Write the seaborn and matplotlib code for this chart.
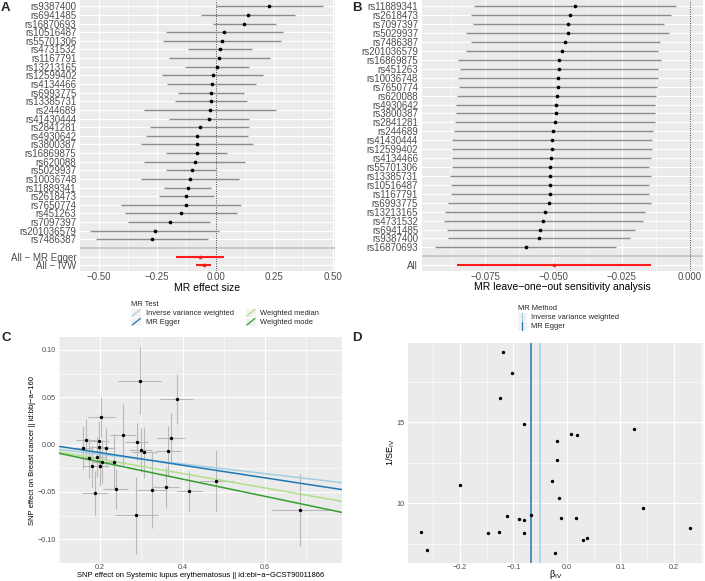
import numpy as np
import pandas as pd
import matplotlib
matplotlib.use("Agg")
import matplotlib.pyplot as plt
import seaborn as sns
from matplotlib.legend_handler import HandlerBase
from matplotlib.lines import Line2D
from matplotlib.patches import Rectangle

# ---------------- Panel A: single SNP forest plot ----------------
snps_a = ["rs9387400", "rs6941485", "rs16870693", "rs10516487", "rs55701306", "rs4731532",
          "rs1167791", "rs13213165", "rs12599402", "rs4134466", "rs6993775", "rs13385731",
          "rs244689", "rs41430444", "rs2841281", "rs4930642", "rs3800387", "rs16869875",
          "rs620088", "rs5029937", "rs10036748", "rs11889341", "rs2618473", "rs7650774",
          "rs451263", "rs7097397", "rs201036579", "rs7486387"]
b_a = [0.226, 0.140, 0.123, 0.036, 0.029, 0.017, 0.014, 0.006, -0.013, -0.017, -0.020, -0.020,
       -0.023, -0.029, -0.069, -0.079, -0.079, -0.079, -0.090, -0.103, -0.111, -0.119, -0.126,
       -0.126, -0.149, -0.197, -0.261, -0.271]
lo_a = [0.000, -0.061, -0.010, -0.211, -0.224, -0.119, -0.199, -0.130, -0.229, -0.206, -0.160, -0.174,
        -0.306, -0.199, -0.279, -0.296, -0.319, -0.211, -0.307, -0.211, -0.321, -0.219, -0.241,
        -0.404, -0.387, -0.374, -0.539, -0.510]
hi_a = [0.457, 0.340, 0.257, 0.286, 0.281, 0.154, 0.231, 0.144, 0.201, 0.173, 0.121, 0.133,
        0.259, 0.144, 0.141, 0.137, 0.160, 0.050, 0.126, 0.004, 0.099, -0.019, -0.009,
        0.110, 0.093, -0.023, 0.016, -0.034]
sum_a_labels = ["All \u2212 MR Egger", "All \u2212 IVW"]
sum_a_b = [-0.067, -0.051]
sum_a_lo = [-0.171, -0.086]
sum_a_hi = [0.037, -0.019]
a_xticks = [-0.50, -0.25, 0.00, 0.25, 0.50]
a_xticklabels = ["\u22120.50", "\u22120.25", "0.00", "0.25", "0.50"]

# ---------------- Panel B: leave-one-out ----------------
snps_b = ["rs11889341", "rs2618473", "rs7097397", "rs5029937", "rs7486387", "rs201036579",
          "rs16869875", "rs451263", "rs10036748", "rs7650774", "rs620088", "rs4930642",
          "rs3800387", "rs2841281", "rs244689", "rs41430444", "rs12599402", "rs4134466",
          "rs55701306", "rs13385731", "rs10516487", "rs1167791", "rs6993775", "rs13213165",
          "rs4731532", "rs6941485", "rs9387400", "rs16870693"]
b_b = [-0.0421, -0.0438, -0.0446, -0.0448, -0.0456, -0.0468, -0.0479, -0.0479, -0.0483, -0.0483,
       -0.0488, -0.0491, -0.0491, -0.0493, -0.0500, -0.0505, -0.0506, -0.0509, -0.0511, -0.0511,
       -0.0512, -0.0513, -0.0515, -0.0532, -0.0538, -0.0548, -0.0551, -0.0602]
lo_b = [-0.0789, -0.0802, -0.0796, -0.0821, -0.0802, -0.0820, -0.0849, -0.0840, -0.0848, -0.0845,
        -0.0852, -0.0856, -0.0856, -0.0859, -0.0863, -0.0872, -0.0872, -0.0872, -0.0871, -0.0878,
        -0.0873, -0.0874, -0.0884, -0.0896, -0.0902, -0.0891, -0.0884, -0.0933]
hi_b = [-0.0051, -0.0071, -0.0095, -0.0076, -0.0110, -0.0118, -0.0107, -0.0118, -0.0118, -0.0120,
        -0.0124, -0.0127, -0.0128, -0.0128, -0.0137, -0.0139, -0.0140, -0.0143, -0.0149, -0.0143,
        -0.0150, -0.0150, -0.0144, -0.0165, -0.0171, -0.0201, -0.0220, -0.0272]
sum_b_label = ["All"]
sum_b_b = [-0.0498]
sum_b_lo = [-0.0851]
sum_b_hi = [-0.0143]
b_xticks = [-0.075, -0.050, -0.025, 0.000]
b_xticklabels = ["\u22120.075", "\u22120.050", "\u22120.025", "0.000"]

# ---------------- Panel C: scatter plot ----------------
bx_c = [0.1596, 0.1661, 0.1727, 0.1799, 0.1887, 0.1935, 0.1976, 0.1984, 0.2008, 0.2040,
        0.2032, 0.2137, 0.2339, 0.2379, 0.2548, 0.2878, 0.2887, 0.2984, 0.3071, 0.3265,
        0.3588, 0.3652, 0.3717, 0.3855, 0.4160, 0.4813, 0.6853, 0.2967]
by_c = [-0.0032, 0.0053, -0.0141, -0.0225, -0.0511, -0.0130, 0.0035, -0.0025, -0.0222, -0.0180,
        0.0289, -0.0032, -0.0180, -0.0469, 0.0099, -0.0747, 0.0025, -0.0056, -0.0081, -0.0476,
        -0.0451, -0.0070, 0.0071, 0.0479, -0.0490, -0.0381, -0.0694, 0.0677]
sex_c = [0.020, 0.025, 0.022, 0.020, 0.031, 0.022, 0.024, 0.022, 0.020, 0.022,
         0.033, 0.024, 0.026, 0.030, 0.030, 0.052, 0.028, 0.028, 0.030, 0.036,
         0.032, 0.030, 0.034, 0.040, 0.030, 0.040, 0.069, 0.052]
sey_c = [0.0230, 0.0215, 0.0212, 0.0219, 0.0230, 0.0209, 0.0218, 0.0218, 0.0218, 0.0226,
         0.0209, 0.0207, 0.0287, 0.0214, 0.0325, 0.0405, 0.0202, 0.0236, 0.0270, 0.0401,
         0.0217, 0.0264, 0.0262, 0.0264, 0.0215, 0.0323, 0.0380, 0.0351]
methods = ["Inverse variance weighted", "MR Egger", "Weighted median", "Weighted mode"]
method_est = [-0.0511, -0.0667, -0.0763, -0.0911]
method_int = [0.0, 0.0049, 0.0, 0.0]
method_colors = ["#A6CEE3", "#1F78B4", "#B2DF8A", "#33A02C"]
c_xticks = [0.2, 0.4, 0.6]
c_xticklabels = ["0.2", "0.4", "0.6"]
c_yticks = [-0.10, -0.05, 0.00, 0.05, 0.10]
c_yticklabels = ["\u22120.10", "\u22120.05", "0.00", "0.05", "0.10"]

# ---------------- Panel D: funnel plot ----------------
beta_d = [-0.1196, -0.1022, -0.1259, -0.0804, 0.1252, 0.0081, 0.0193, -0.0187, -0.0193, -0.0274,
          -0.1994, -0.0150, 0.1420, -0.0679, -0.1121, -0.0903, -0.0798, -0.0118, 0.0174, 0.2299,
          -0.2729, -0.1483, -0.1265, -0.0798, 0.0374, 0.0305, -0.2623, -0.0218]
invse_d = [19.32, 18.02, 16.52, 14.91, 14.60, 14.26, 14.20, 13.83, 12.65, 11.36,
           11.13, 10.31, 9.71, 9.28, 9.22, 9.01, 8.99, 9.12, 9.07, 8.46,
           8.21, 8.15, 8.21, 8.15, 7.84, 7.74, 7.10, 6.93]
d_methods = ["Inverse variance weighted", "MR Egger"]
d_est = [-0.0511, -0.0667]
d_colors = ["#A6CEE3", "#1F78B4"]
d_xticks = [-0.2, -0.1, 0.0, 0.1, 0.2]
d_xticklabels = ["\u22120.2", "\u22120.1", "0.0", "0.1", "0.2"]
d_yticks = [10, 15]
d_yticklabels = ["10", "15"]

# ---------------- Styling ----------------
sns.set_theme(style="darkgrid")
plt.rcParams["font.family"] = ["Liberation Sans", "DejaVu Sans"]
plt.rcParams["mathtext.fontset"] = "custom"
plt.rcParams["mathtext.rm"] = "Liberation Sans"
plt.rcParams["mathtext.it"] = "Liberation Sans"
plt.rcParams["mathtext.default"] = "regular"

W, H = 705, 581
fig = plt.figure(figsize=(W / 100, H / 100), dpi=100)
fig.patch.set_facecolor("white")


def px_axes(l, t, r, b):
    return fig.add_axes([l / W, 1 - b / H, (r - l) / W, (b - t) / H])


def style(ax, fs, xpad, ypad):
    ax.set_facecolor("#EBEBEB")
    for s in ax.spines.values():
        s.set_visible(False)
    ax.grid(False)
    ax.tick_params(axis="both", which="major", length=1.6, width=0.5, color="#333333",
                   labelcolor="#4D4D4D", labelsize=fs)
    ax.tick_params(axis="x", pad=xpad)
    ax.tick_params(axis="y", pad=ypad)
    ax.tick_params(axis="both", which="minor", length=0)


def grid_lines(ax, xs_major, xs_minor, ys_major, ys_minor):
    for x in xs_minor:
        ax.axvline(x, color="white", lw=0.4, zorder=0)
    for x in xs_major:
        ax.axvline(x, color="white", lw=0.8, zorder=0)
    for y in ys_minor:
        ax.axhline(y, color="white", lw=0.4, zorder=0)
    for y in ys_major:
        ax.axhline(y, color="white", lw=0.8, zorder=0)


def place_xlabel(ax, y_px, ax_bottom_px, ax_height_px):
    ax.xaxis.label.set_va("center")
    ax.xaxis.set_label_coords(0.5, -(y_px - ax_bottom_px) / ax_height_px)


def place_ylabel(ax, x_px, ax_left_px, ax_width_px):
    ax.yaxis.label.set_va("center")
    ax.yaxis.set_label_coords(-(ax_left_px - x_px) / ax_width_px, 0.5)


# ----- A -----
axA = px_axes(80, 0, 335, 270.5)
style(axA, 7.0, -0.6, 1.0)
rows_a = np.arange(len(snps_a))
srow_a = np.array([len(snps_a) + 1, len(snps_a) + 2])
grid_lines(axA, a_xticks, [-0.375, -0.125, 0.125, 0.375], list(rows_a) + list(srow_a), [])
axA.axhline(len(snps_a), color="#C4C4C4", lw=1.2, zorder=1)
axA.hlines(rows_a, lo_a, hi_a, color="#8C8C8C", lw=1.0, zorder=2)
axA.hlines(srow_a, sum_a_lo, sum_a_hi, color="#FF1A1A", lw=1.5, zorder=2)
axA.axvline(0, color="#555555", lw=0.7, ls=(0, (1.2, 1.2)), zorder=1.5)
dfA = pd.DataFrame({"b": b_a, "row": rows_a})
sns.scatterplot(data=dfA, x="b", y="row", color="black", s=7, linewidth=0, ax=axA, zorder=3)
dfAs = pd.DataFrame({"b": sum_a_b, "row": srow_a})
sns.scatterplot(data=dfAs, x="b", y="row", color="#FF1A1A", s=7, linewidth=0, ax=axA, zorder=3)
axA.set_xlim(-0.58, 0.51)
axA.set_ylim(30.61, -0.73)
axA.set_yticks(list(rows_a) + list(srow_a))
axA.set_yticklabels(snps_a + sum_a_labels)
axA.set_xticks(a_xticks)
axA.set_xticklabels(a_xticklabels)
axA.set_xlabel("MR effect size", fontsize=7.5, color="black")
axA.set_ylabel("")
place_xlabel(axA, 287.5, 270.5, 270.5)

# ----- B -----
axB = px_axes(421.7, 0, 703, 270.7)
style(axB, 7.0, -0.6, 1.0)
rows_b = np.arange(len(snps_b))
srow_b = np.array([len(snps_b) + 1])
grid_lines(axB, b_xticks, [-0.0875, -0.0625, -0.0375, -0.0125], list(rows_b) + list(srow_b), [])
axB.axhline(len(snps_b), color="#C4C4C4", lw=1.2, zorder=1)
axB.hlines(rows_b, lo_b, hi_b, color="#8C8C8C", lw=1.0, zorder=2)
axB.hlines(srow_b, sum_b_lo, sum_b_hi, color="#FF1A1A", lw=1.5, zorder=2)
axB.axvline(0, color="#555555", lw=0.7, ls=(0, (1.2, 1.2)), zorder=1.5)
dfB = pd.DataFrame({"b": b_b, "row": rows_b})
sns.scatterplot(data=dfB, x="b", y="row", color="black", s=7, linewidth=0, ax=axB, zorder=3)
dfBs = pd.DataFrame({"b": sum_b_b, "row": srow_b})
sns.scatterplot(data=dfBs, x="b", y="row", color="#FF1A1A", s=7, linewidth=0, ax=axB, zorder=3)
axB.set_xlim(-0.0982, 0.00476)
axB.set_ylim(29.61, -0.71)
axB.set_yticks(list(rows_b) + list(srow_b))
axB.set_yticklabels(snps_b + sum_b_label)
axB.set_xticks(b_xticks)
axB.set_xticklabels(b_xticklabels)
axB.set_xlabel("MR leave\u2212one\u2212out sensitivity analysis", fontsize=7.5, color="black")
axB.set_ylabel("")
place_xlabel(axB, 287.5, 270.7, 270.7)

# ----- C -----
axC = px_axes(59.3, 337.3, 341.7, 563.3)
style(axC, 5.2, -0.8, 0.8)
grid_lines(axC, c_xticks, [0.1, 0.3, 0.5, 0.7], c_yticks, [-0.125, -0.075, -0.025, 0.025, 0.075])
bx = np.array(bx_c); by = np.array(by_c); sx = np.array(sex_c); sy = np.array(sey_c)
axC.hlines(by, bx - sx, bx + sx, color="#B8B8B8", lw=0.8, zorder=1)
axC.vlines(bx, by - sy, by + sy, color="#B8B8B8", lw=0.8, zorder=1)
for est, icpt, col in zip(method_est, method_int, method_colors):
    axC.axline((0, icpt), slope=est, color=col, lw=1.1, zorder=2)
dfC = pd.DataFrame({"x": bx_c, "y": by_c})
sns.scatterplot(data=dfC, x="x", y="y", color="black", s=6, linewidth=0, ax=axC, zorder=3)
axC.set_xlim(0.1016, 0.7855)
axC.set_ylim(-0.1254, 0.1134)
axC.set_xticks(c_xticks)
axC.set_xticklabels(c_xticklabels)
axC.set_yticks(c_yticks)
axC.set_yticklabels(c_yticklabels)
axC.set_xlabel("SNP effect on Systemic lupus erythematosus || id:ebi\u2212a\u2212GCST90011866",
               fontsize=5.5, color="black")
axC.set_ylabel("SNP effect on Breast cancer || id:bbj\u2212a\u2212160", fontsize=5.5, color="black")
place_xlabel(axC, 575.5, 563.3, 226.0)
place_ylabel(axC, 33, 59.3, 282.4)


class DiagHandler(HandlerBase):
    def create_artists(self, legend, orig_handle, xdescent, ydescent, width, height, fontsize, trans):
        bg = Rectangle((-xdescent, -ydescent), width, height, facecolor="#F2F2F2",
                       edgecolor="none", transform=trans)
        ln = Line2D([-xdescent + 0.1 * width, -xdescent + 0.9 * width],
                    [-ydescent + 0.1 * height, -ydescent + 0.9 * height],
                    color=orig_handle.get_color(), lw=0.9, transform=trans)
        return [bg, ln]


class VHandler(HandlerBase):
    def create_artists(self, legend, orig_handle, xdescent, ydescent, width, height, fontsize, trans):
        bg = Rectangle((-xdescent, -ydescent), width, height, facecolor="#F2F2F2",
                       edgecolor="none", transform=trans)
        ln = Line2D([-xdescent + 0.5 * width] * 2, [-ydescent, -ydescent + height],
                    color=orig_handle.get_color(), lw=0.9, transform=trans)
        return [bg, ln]


hC = [Line2D([], [], color=c) for c in method_colors]
legC = fig.legend(hC, methods, title="MR Test", loc="upper left",
                  bbox_to_anchor=(126 / W, 1 - 296 / H), ncol=2, frameon=False,
                  fontsize=5.4, title_fontsize=5.4, alignment="left",
                  handler_map={Line2D: DiagHandler()}, handlelength=1.35, handleheight=1.3,
                  handletextpad=0.6, columnspacing=1.6, labelspacing=0.05, borderpad=0.2)

# ----- D -----
axD = px_axes(408.3, 342.7, 703.3, 562.7)
style(axD, 5.2, -0.8, 0.8)
grid_lines(axD, d_xticks, [-0.25, -0.15, -0.05, 0.05, 0.15, 0.25], d_yticks, [7.5, 12.5, 17.5])
for est, col in zip(d_est, d_colors):
    axD.axvline(est, color=col, lw=1.1, zorder=2)
dfD = pd.DataFrame({"beta": beta_d, "invse": invse_d})
sns.scatterplot(data=dfD, x="beta", y="invse", color="black", s=6, linewidth=0, ax=axD, zorder=3)
axD.set_xlim(-0.2966, 0.2548)
axD.set_ylim(6.34, 19.91)
axD.set_xticks(d_xticks)
axD.set_xticklabels(d_xticklabels)
axD.set_yticks(d_yticks)
axD.set_yticklabels(d_yticklabels)
axD.set_xlabel("\u03b2$_{IV}$", fontsize=6.5, color="black")
axD.set_ylabel("1/SE$_{IV}$", fontsize=6.5, color="black")
place_xlabel(axD, 574.5, 562.7, 220.0)
place_ylabel(axD, 391, 408.3, 295.0)

hD = [Line2D([], [], color=c) for c in d_colors]
legD = fig.legend(hD, d_methods, title="MR Method", loc="upper left",
                  bbox_to_anchor=(513 / W, 1 - 300 / H), ncol=1, frameon=False,
                  fontsize=5.4, title_fontsize=5.4, alignment="left",
                  handler_map={Line2D: VHandler()}, handlelength=1.1, handleheight=1.3,
                  handletextpad=0.6, labelspacing=0.05, borderpad=0.2)

# ----- panel letters -----
for lab, x, y in [("A", 1, 8), ("B", 352, 8), ("C", 1, 338), ("D", 352, 338)]:
    fig.text(x / W, 1 - y / H, lab, fontsize=9.5, fontweight="bold", ha="left", va="center")

fig.savefig("out.png", dpi=100, facecolor="white")
